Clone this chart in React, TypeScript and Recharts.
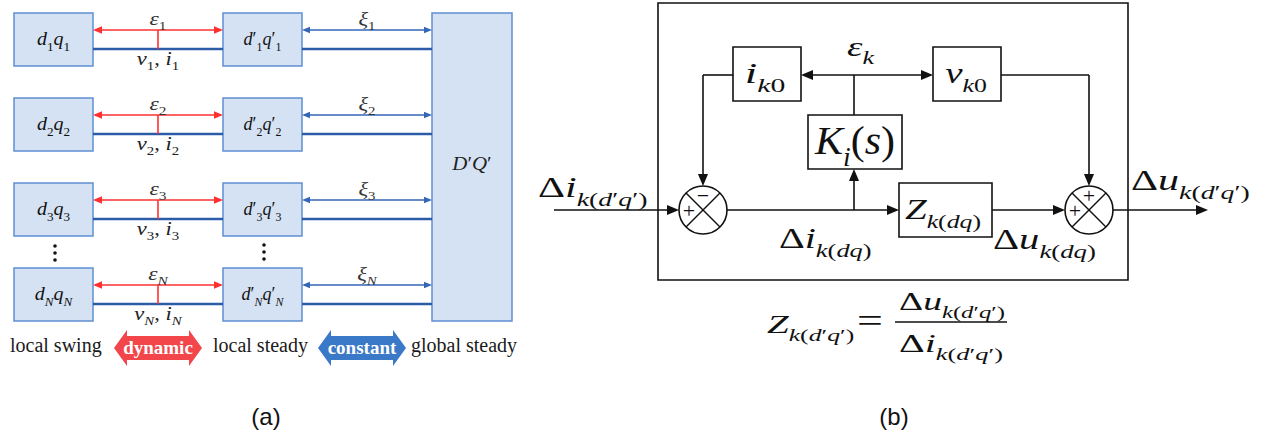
import React from 'react';
import { ComposedChart, XAxis, YAxis, ReferenceArea, ReferenceLine, ReferenceDot } from 'recharts';

const W = 1265;
const H = 438;
const MATH = '"Liberation Serif", "DejaVu Serif", serif';
const SANS = '"Liberation Sans", Arial, sans-serif';

// ---------- panel (a) data ----------
const rowTops = [13, 98, 183, 268];
const rowIdx = ['1', '2', '3', 'N'];
const boxH = 53;
const colA = [14, 93];
const colB = [223, 302];
const globalBox = { x1: 432, x2: 512, y1: 13, y2: 321 };
const tickX = 158;
const xiX = 367;
const dotsA = [{ x: 55, y: 246 }, { x: 55, y: 253 }, { x: 55, y: 260 }];
const dotsB = [{ x: 264, y: 245 }, { x: 264, y: 252 }, { x: 264, y: 259 }];
const bottomWords = [
  { x: 10, y: 352, t: 'local swing' },
  { x: 213, y: 352, t: 'local steady' },
  { x: 411, y: 352, t: 'global steady' },
];
const badges = [
  { x1: 114, x2: 202, y1: 330, y2: 366, t: 'dynamic', fill: '#F2464A' },
  { x1: 318, x2: 406, y1: 330, y2: 366, t: 'constant', fill: '#3A78C8' },
];

// ---------- panel (b) data ----------
const frame = { x1: 658, x2: 1128, y1: 3, y2: 280 };
const blocks = [
  { x1: 733, x2: 801, y1: 47, y2: 101, label: 'i_{k0}', lx: 765, ly: 83, size: 30, sx: 1.5 },
  { x1: 933, x2: 1001, y1: 47, y2: 101, label: 'v_{k0}', lx: 966, ly: 83, size: 30, sx: 1.3 },
  { x1: 808, x2: 902, y1: 115, y2: 169, label: 'K_{i}(s)', lx: 855, ly: 154, size: 40, sx: 1.05 },
  { x1: 899, x2: 992, y1: 183, y2: 237, label: 'Z_{k(dq)}', lx: 943, ly: 219, size: 30, sx: 1.3 },
];
const junctions = [
  { x: 703, y: 210, r: 24, top: '−', left: '+' },
  { x: 1089, y: 210, r: 24, top: '+', left: '+' },
];
// wires: [x1, y1, x2, y2, arrowStart, arrowEnd]
const wires: [number, number, number, number, boolean, boolean][] = [
  [554, 210, 679, 210, false, true],
  [727, 210, 899, 210, false, true],
  [854, 210, 854, 169, false, true],
  [854, 115, 854, 75, false, false],
  [801, 75, 933, 75, true, true],
  [733, 75, 703, 75, false, false],
  [703, 75, 703, 186, false, true],
  [992, 210, 1065, 210, false, true],
  [1001, 75, 1089, 75, false, false],
  [1089, 75, 1089, 186, false, true],
  [1113, 210, 1208, 210, false, true],
];
const mathLabels = [
  { x: 538, y: 197, t: 'Δi_{k(d′q′)}', size: 29, anchor: 'start', sx: 1.45 },
  { x: 779, y: 248, t: 'Δi_{k(dq)}', size: 29, anchor: 'start', sx: 1.38 },
  { x: 993, y: 249, t: 'Δu_{k(dq)}', size: 29, anchor: 'start', sx: 1.4 },
  { x: 1131, y: 190, t: 'Δu_{k(d′q′)}', size: 29, anchor: 'start', sx: 1.45 },
  { x: 847, y: 56, t: 'ε_{k}', size: 28, anchor: 'start', sx: 1.4 },
  { x: 767, y: 333, t: 'Z_{k(d′q′)}', size: 26, anchor: 'start', sx: 1.5 },
  { x: 857, y: 332, t: '=', size: 34, anchor: 'start', sx: 1.35 },
  { x: 952, y: 310, t: 'Δu_{k(d′q′)}', size: 25, anchor: 'middle', sx: 1.5 },
  { x: 951, y: 352, t: 'Δi_{k(d′q′)}', size: 25, anchor: 'middle', sx: 1.6 },
];
const fractionBar = [895, 322, 1007, 322];
const captions = [
  { x: 266, y: 425, t: '(a)' },
  { x: 894, y: 425, t: '(b)' },
];

// ---------- helpers ----------
type Seg = { t: string; level: number };
function parse(s: string): Seg[] {
  const out: Seg[] = [];
  let i = 0;
  while (i < s.length) {
    if ((s[i] === '_' || s[i] === '^') && s[i + 1] === '{') {
      const j = s.indexOf('}', i);
      out.push({ t: s.slice(i + 2, j), level: s[i] === '_' ? 1 : -1 });
      i = j + 1;
    } else {
      let j = i;
      while (j < s.length && !((s[j] === '_' || s[j] === '^') && s[j + 1] === '{')) j++;
      out.push({ t: s.slice(i, j), level: 0 });
      i = j;
    }
  }
  return out;
}
const ITAL = /[A-Za-zεξ]/;
function MathText(props: { x: number; y: number; src: string; size: number; anchor?: string; color?: string; family?: string; sx?: number }) {
  const { x, y, src, size, anchor = 'middle', color = '#111', family = MATH, sx = 1 } = props;
  const segs = parse(src);
  const spans: React.ReactNode[] = [];
  let cur = 0;
  segs.forEach((sg, si) => {
    const target = sg.level === 1 ? size * 0.3 : sg.level === -1 ? -size * 0.38 : 0;
    const fs = sg.level === 0 ? size : size * 0.66;
    const runs = sg.t.match(/[A-Za-zεξ]+|[^A-Za-zεξ]+/g) || [];
    runs.forEach((r, ri) => {
      const dy = target - cur;
      cur = target;
      spans.push(
        <tspan key={si + '-' + ri} dy={dy} fontSize={fs} fontStyle={ITAL.test(r) ? 'italic' : 'normal'}>
          {r}
        </tspan>
      );
    });
  });
  return (
    <g transform={`translate(${x},${y}) scale(${sx},1)`}>
      <text x={0} y={0} textAnchor={anchor as any} fontFamily={family} fill={color} style={{ whiteSpace: 'pre' }}>
        {spans}
      </text>
    </g>
  );
}

function arrowShape(color: string, width: number, head: number, aStart: boolean, aEnd: boolean) {
  return (p: any) => {
    const { x1, y1, x2, y2 } = p;
    const dx = x2 - x1, dy = y2 - y1;
    const len = Math.sqrt(dx * dx + dy * dy) || 1;
    const ux = dx / len, uy = dy / len;
    const hw = head * 0.42;
    const sx = aStart ? x1 + ux * head * 0.6 : x1;
    const sy = aStart ? y1 + uy * head * 0.6 : y1;
    const ex = aEnd ? x2 - ux * head * 0.6 : x2;
    const ey = aEnd ? y2 - uy * head * 0.6 : y2;
    const headAt = (tx: number, ty: number, dirx: number, diry: number) => {
      const bx = tx - dirx * head, by = ty - diry * head;
      return `${tx},${ty} ${bx - diry * hw},${by + dirx * hw} ${bx + diry * hw},${by - dirx * hw}`;
    };
    return (
      <g>
        <line x1={sx} y1={sy} x2={ex} y2={ey} stroke={color} strokeWidth={width} />
        {aEnd && <polygon points={headAt(x2, y2, ux, uy)} fill={color} />}
        {aStart && <polygon points={headAt(x1, y1, -ux, -uy)} fill={color} />}
      </g>
    );
  };
}

const RED = '#FF3030';
const DBLUE = '#2C5BA8';
const MBLUE = '#3466B8';
const BOXFILL = '#D5E2F3';
const BOXSTROKE = '#5F8FD2';

export default function App() {
  const els: React.ReactNode[] = [];

  // panel (a) boxes and connections
  rowTops.forEach((t, i) => {
    const n = rowIdx[i];
    els.push(<ReferenceArea key={'ba' + i} x1={colA[0]} x2={colA[1]} y1={t} y2={t + boxH} fill={BOXFILL} fillOpacity={1} stroke={BOXSTROKE} strokeWidth={1.5} ifOverflow="visible" />);
    els.push(<ReferenceArea key={'bb' + i} x1={colB[0]} x2={colB[1]} y1={t} y2={t + boxH} fill={BOXFILL} fillOpacity={1} stroke={BOXSTROKE} strokeWidth={1.5} ifOverflow="visible" />);
    els.push(<ReferenceLine key={'bl1' + i} segment={[{ x: colA[1], y: t + 36 }, { x: colB[0], y: t + 36 }]} ifOverflow="visible" shape={arrowShape(DBLUE, 2.6, 0, false, false)} />);
    els.push(<ReferenceLine key={'bl2' + i} segment={[{ x: colB[1], y: t + 36 }, { x: globalBox.x1, y: t + 36 }]} ifOverflow="visible" shape={arrowShape(DBLUE, 2.6, 0, false, false)} />);
    els.push(<ReferenceLine key={'ra' + i} segment={[{ x: colA[1], y: t + 17 }, { x: colB[0], y: t + 17 }]} ifOverflow="visible" shape={arrowShape(RED, 1.6, 9, true, true)} />);
    els.push(<ReferenceLine key={'rt' + i} segment={[{ x: tickX, y: t + 17 }, { x: tickX, y: t + 36 }]} ifOverflow="visible" shape={arrowShape(RED, 1.6, 0, false, false)} />);
    els.push(<ReferenceLine key={'xa' + i} segment={[{ x: colB[1], y: t + 17 }, { x: globalBox.x1, y: t + 17 }]} ifOverflow="visible" shape={arrowShape(MBLUE, 1.4, 8, true, true)} />);
    const lA = `d_{${n}}q_{${n}}`;
    const lB = `d′_{${n}}q′_{${n}}`;
    els.push(<ReferenceDot key={'la' + i} x={(colA[0] + colA[1]) / 2} y={t + 32} ifOverflow="visible" shape={(p: any) => <MathText x={p.cx} y={p.cy} src={lA} size={19} sx={1.05} />} />);
    els.push(<ReferenceDot key={'lb' + i} x={(colB[0] + colB[1]) / 2} y={t + 32} ifOverflow="visible" shape={(p: any) => <MathText x={p.cx} y={p.cy} src={lB} size={19} sx={0.95} />} />);
    els.push(<ReferenceDot key={'le' + i} x={tickX} y={t + 12} ifOverflow="visible" shape={(p: any) => <MathText x={p.cx} y={p.cy} src={`ε_{${n}}`} size={18} color="#333" sx={1.3} />} />);
    els.push(<ReferenceDot key={'lv' + i} x={tickX} y={t + 52} ifOverflow="visible" shape={(p: any) => <MathText x={p.cx} y={p.cy} src={`v_{${n}}, i_{${n}}`} size={18} color="#222" sx={1.25} />} />);
    els.push(<ReferenceDot key={'lx' + i} x={xiX} y={t + 12} ifOverflow="visible" shape={(p: any) => <MathText x={p.cx} y={p.cy} src={`ξ_{${n}}`} size={18} color="#333" sx={1.25} />} />);
  });
  els.push(<ReferenceArea key="gbox" x1={globalBox.x1} x2={globalBox.x2} y1={globalBox.y1} y2={globalBox.y2} fill={BOXFILL} fillOpacity={1} stroke={BOXSTROKE} strokeWidth={1.5} ifOverflow="visible" />);
  els.push(<ReferenceDot key="gl" x={(globalBox.x1 + globalBox.x2) / 2} y={170} ifOverflow="visible" shape={(p: any) => <MathText x={p.cx} y={p.cy} src="D′Q′" size={19} color="#222" sx={1.1} />} />);
  [...dotsA, ...dotsB].forEach((d, i) => {
    els.push(<ReferenceDot key={'dot' + i} x={d.x} y={d.y} r={1.8} fill="#111" stroke="none" ifOverflow="visible" />);
  });
  bottomWords.forEach((w, i) => {
    els.push(<ReferenceDot key={'bw' + i} x={w.x} y={w.y} ifOverflow="visible" shape={(p: any) => (
      <text x={p.cx} y={p.cy} fontFamily={MATH} fontSize={20} fill="#1a1a1a">{w.t}</text>
    )} />);
  });
  badges.forEach((b, i) => {
    els.push(<ReferenceArea key={'bg' + i} x1={b.x1} x2={b.x2} y1={b.y1} y2={b.y2} ifOverflow="visible" shape={(p: any) => {
      const { x, y, width: w, height: h } = p;
      const hl = 13, bi = h * 0.17;
      const pts = [
        [x, y + h / 2], [x + hl, y], [x + hl, y + bi], [x + w - hl, y + bi], [x + w - hl, y], [x + w, y + h / 2],
        [x + w - hl, y + h], [x + w - hl, y + h - bi], [x + hl, y + h - bi], [x + hl, y + h],
      ].map((q) => q.join(',')).join(' ');
      return (
        <g>
          <polygon points={pts} fill={b.fill} />
          <text x={x + w / 2} y={y + h / 2 + 6} textAnchor="middle" fontFamily={MATH} fontWeight="bold" fontSize={19} fill="#fff">{b.t}</text>
        </g>
      );
    }} />);
  });

  // panel (b)
  els.push(<ReferenceArea key="frame" x1={frame.x1} x2={frame.x2} y1={frame.y1} y2={frame.y2} fill="none" stroke="#111" strokeWidth={1.6} ifOverflow="visible" />);
  blocks.forEach((b, i) => {
    els.push(<ReferenceArea key={'blk' + i} x1={b.x1} x2={b.x2} y1={b.y1} y2={b.y2} fill="#fff" fillOpacity={1} stroke="#111" strokeWidth={1.6} ifOverflow="visible" />);
    els.push(<ReferenceDot key={'blkl' + i} x={b.lx} y={b.ly} ifOverflow="visible" shape={(p: any) => <MathText x={p.cx} y={p.cy} src={b.label} size={b.size} sx={b.sx} />} />);
  });
  wires.forEach((w, i) => {
    els.push(<ReferenceLine key={'w' + i} segment={[{ x: w[0], y: w[1] }, { x: w[2], y: w[3] }]} ifOverflow="visible" shape={arrowShape('#111', 1.6, 12, w[4], w[5])} />);
  });
  junctions.forEach((j, i) => {
    els.push(<ReferenceDot key={'j' + i} x={j.x} y={j.y} ifOverflow="visible" shape={(p: any) => {
      const { cx, cy } = p;
      const r = j.r;
      const d = r * 0.7071;
      return (
        <g>
          <circle cx={cx} cy={cy} r={r} fill="#fff" stroke="#111" strokeWidth={1.6} />
          <line x1={cx - d} y1={cy - d} x2={cx + d} y2={cy + d} stroke="#111" strokeWidth={1.4} />
          <line x1={cx + d} y1={cy - d} x2={cx - d} y2={cy + d} stroke="#111" strokeWidth={1.4} />
          <text x={cx} y={cy - 7} textAnchor="middle" fontFamily={MATH} fontSize={22} fill="#111">{j.top}</text>
          <text x={cx - 14} y={cy + 8} textAnchor="middle" fontFamily={MATH} fontSize={22} fill="#111">{j.left}</text>
        </g>
      );
    }} />);
  });
  mathLabels.forEach((m, i) => {
    els.push(<ReferenceDot key={'m' + i} x={m.x} y={m.y} ifOverflow="visible" shape={(p: any) => <MathText x={p.cx} y={p.cy} src={m.t} size={m.size} anchor={m.anchor} sx={m.sx} />} />);
  });
  els.push(<ReferenceLine key="frac" segment={[{ x: fractionBar[0], y: fractionBar[1] }, { x: fractionBar[2], y: fractionBar[3] }]} ifOverflow="visible" shape={arrowShape('#111', 1.4, 0, false, false)} />);
  captions.forEach((c, i) => {
    els.push(<ReferenceDot key={'c' + i} x={c.x} y={c.y} ifOverflow="visible" shape={(p: any) => (
      <text x={p.cx} y={p.cy} textAnchor="middle" fontFamily={SANS} fontSize={24} fill="#111">{c.t}</text>
    )} />);
  });

  return (
    <div style={{ position: 'absolute', left: 0, top: 0, width: W, height: H, background: '#fff' }}>
      <ComposedChart width={W} height={H} margin={{ top: 0, right: 0, bottom: 0, left: 0 }}>
        <XAxis type="number" dataKey="x" domain={[0, W]} allowDataOverflow hide />
        <YAxis type="number" dataKey="y" domain={[0, H]} allowDataOverflow reversed hide />
        {els}
      </ComposedChart>
    </div>
  );
}
